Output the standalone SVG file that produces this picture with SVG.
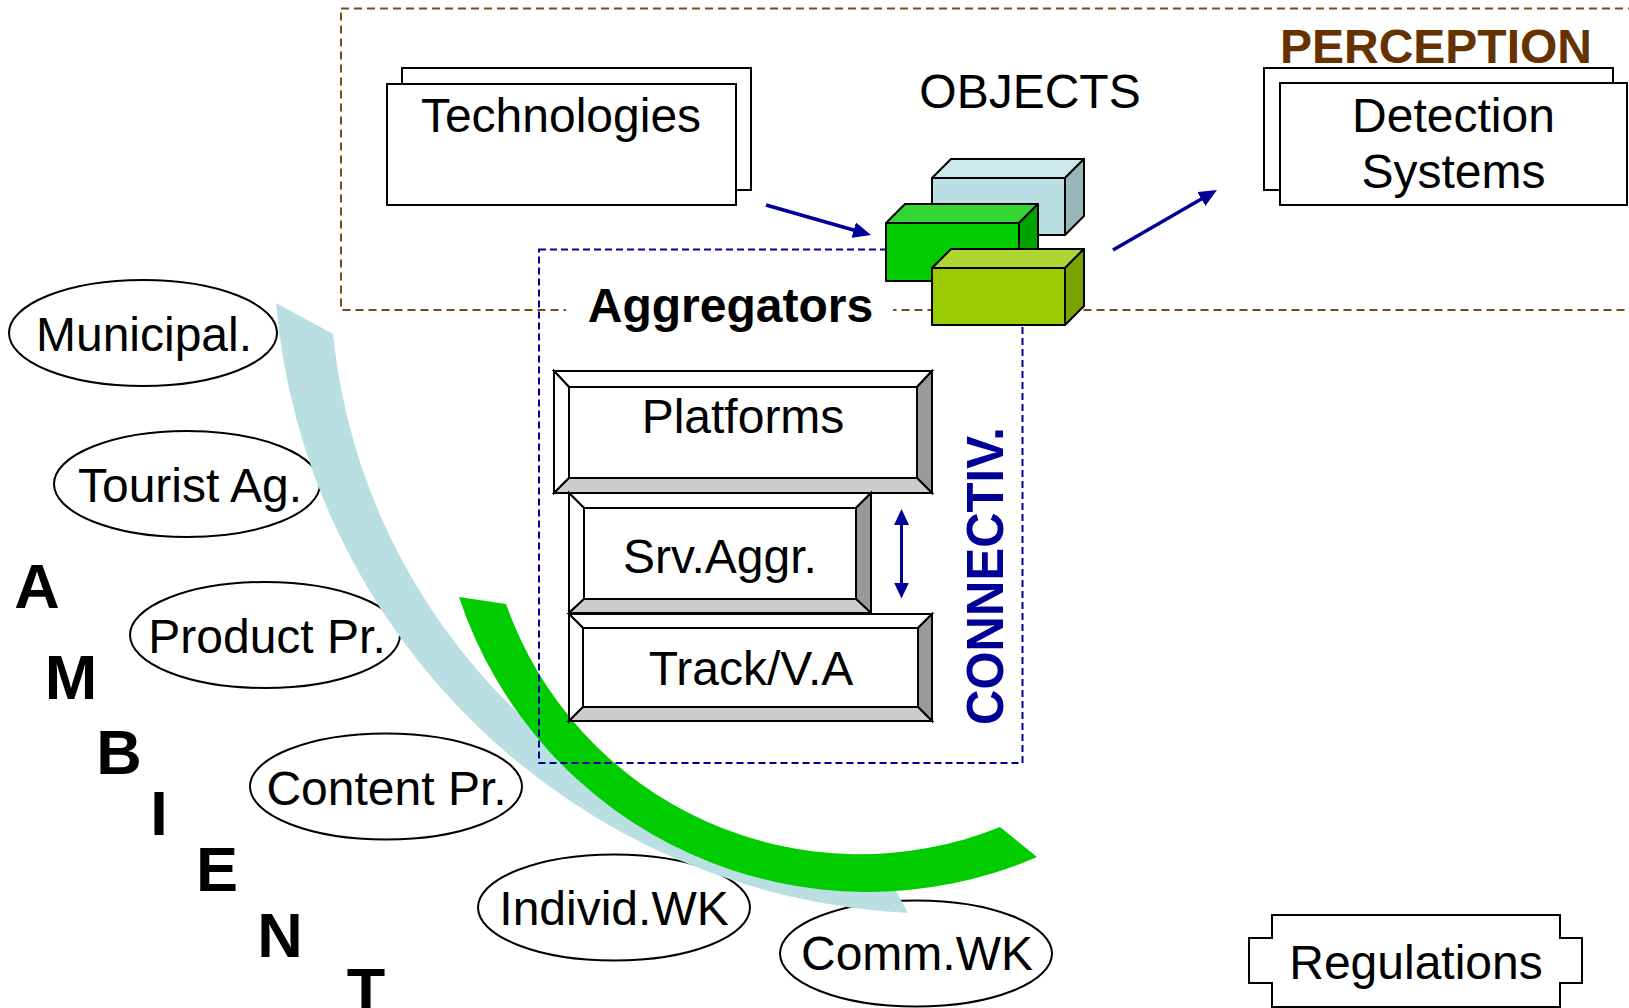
<svg xmlns="http://www.w3.org/2000/svg" width="1629" height="1008" viewBox="0 0 1629 1008">
<style>
.t{font-family:"Liberation Sans",Arial,sans-serif;font-size:48px;fill:#000}
.c{text-anchor:middle}
.b{font-weight:bold}
.box{fill:#fff;stroke:#000;stroke-width:2}
.ell{fill:#fff;stroke:#000;stroke-width:2}
.bv{stroke:#000;stroke-width:2;stroke-linejoin:miter}
.cube{stroke:#000;stroke-width:2;stroke-linejoin:round}
.arr{stroke:#000099;stroke-width:3.5;fill:none}
.amb{font-size:63px}
</style>
<defs>
<marker id="ah" viewBox="0 0 18 16" refX="8" refY="8" markerWidth="18" markerHeight="16" markerUnits="userSpaceOnUse" orient="auto">
<path d="M0,0 L18,8 L0,16 z" fill="#000099"/>
</marker>
<marker id="ahs" viewBox="0 0 16 15" refX="8" refY="7.5" markerWidth="16" markerHeight="15" markerUnits="userSpaceOnUse" orient="auto-start-reverse">
<path d="M0,0 L16,7.5 L0,15 z" fill="#000099"/>
</marker>
</defs>
<rect width="1629" height="1008" fill="#fff"/>

<g id="perception-frame">
<rect x="341" y="8.5" width="1310" height="301.5" fill="none" stroke="#7a4a1a" stroke-width="2" stroke-dasharray="8 5"/>
<text class="t b c" x="1436" y="63" style="fill:#663300">PERCEPTION</text>
</g>

<g id="technologies">
<rect class="box" x="402" y="68" width="349" height="122"/>
<rect class="box" x="387" y="84" width="349" height="121"/>
<text class="t c" x="561" y="132">Technologies</text>
</g>

<g id="detection-systems">
<rect class="box" x="1264" y="68" width="349" height="122"/>
<rect class="box" x="1280" y="83" width="347" height="122"/>
<text class="t c" x="1453.5" y="132">Detection</text>
<text class="t c" x="1453.5" y="188">Systems</text>
</g>

<g id="ambient">
<text class="t b c amb" x="37" y="608">A</text>
<text class="t b c amb" x="71" y="699">M</text>
<text class="t b c amb" x="119" y="774">B</text>
<text class="t b c amb" x="159" y="835">I</text>
<text class="t b c amb" x="217" y="891">E</text>
<text class="t b c amb" x="280" y="957">N</text>
<text class="t b c amb" x="366" y="1012">T</text>
</g>

<g id="municipal"><ellipse class="ell" cx="143" cy="333" rx="134" ry="53"/><text class="t c" x="144" y="351">Municipal.</text></g>
<g id="tourist-ag"><ellipse class="ell" cx="187" cy="484" rx="133" ry="53"/><text class="t c" x="190" y="502">Tourist Ag.</text></g>
<g id="product-pr"><ellipse class="ell" cx="265" cy="635" rx="135" ry="53"/><text class="t c" x="267" y="653">Product Pr.</text></g>
<g id="content-pr"><ellipse class="ell" cx="386" cy="786.5" rx="136" ry="53"/><text class="t c" x="386.5" y="805">Content Pr.</text></g>
<g id="individ-wk"><ellipse class="ell" cx="614" cy="907.5" rx="136" ry="53"/><text class="t c" x="614" y="925">Individ.WK</text></g>
<g id="comm-wk"><ellipse class="ell" cx="916" cy="953.5" rx="136" ry="53"/><text class="t c" x="917" y="970">Comm.WK</text></g>

<g id="flows">
<path d="M276,303 L333,334 A609,609 0 0 0 890,880 L908,913 A668,668 0 0 1 276,303 Z" fill="#b9dfe3"/>
<path d="M459,597 A430,430 0 0 0 1037,857 L1000,827 A375,375 0 0 1 506,604 Z" fill="#00cc00"/>
</g>

<g id="connectivity-frame">
<rect x="539" y="249.5" width="483.5" height="513.5" fill="none" stroke="#000099" stroke-width="2" stroke-dasharray="7 4"/>
<text class="t b c" x="0" y="0" transform="translate(1003,576) rotate(-90)" style="font-size:51px;fill:#000099" textLength="298" lengthAdjust="spacingAndGlyphs">CONNECTIV.</text>
</g>

<g id="aggregators">
<rect x="566" y="288" width="327" height="42" fill="#fff"/>
<text class="t b c" x="730.5" y="322">Aggregators</text>
</g>

<g id="platforms">
<rect x="554" y="371" width="378" height="122" fill="#fff" class="bv"/>
<polygon class="bv" points="554,371 932,371 917,387 569,387" fill="#fff"/>
<polygon class="bv" points="554,371 569,387 569,478 554,493" fill="#fff"/>
<polygon class="bv" points="932,371 932,493 917,478 917,387" fill="#999"/>
<polygon class="bv" points="554,493 932,493 917,478 569,478" fill="#ccc"/>
<rect x="569" y="387" width="348" height="91" fill="#fff" class="bv"/>
<text class="t c" x="743" y="432.5">Platforms</text>
</g>

<g id="srv-aggr">
<rect x="569" y="493" width="302" height="120" fill="#fff" class="bv"/>
<polygon class="bv" points="569,493 871,493 856,508 584,508" fill="#fff"/>
<polygon class="bv" points="569,493 584,508 584,599 569,613" fill="#fff"/>
<polygon class="bv" points="871,493 871,613 856,599 856,508" fill="#999"/>
<polygon class="bv" points="569,613 871,613 856,599 584,599" fill="#ccc"/>
<rect x="584" y="508" width="272" height="91" fill="#fff" class="bv"/>
<text class="t c" x="720" y="573">Srv.Aggr.</text>
</g>

<g id="track-va">
<rect x="569" y="614" width="363" height="107" fill="#fff" class="bv"/>
<polygon class="bv" points="569,614 932,614 918,628 583,628" fill="#fff"/>
<polygon class="bv" points="569,614 583,628 583,707 569,721" fill="#fff"/>
<polygon class="bv" points="932,614 932,721 918,707 918,628" fill="#999"/>
<polygon class="bv" points="569,721 932,721 918,707 583,707" fill="#ccc"/>
<rect x="583" y="628" width="335" height="79" fill="#fff" class="bv"/>
<text class="t c" x="751" y="685">Track/V.A</text>
</g>

<g id="objects">
<text class="t c" x="1030" y="108">OBJECTS</text>
<g id="cube-blue">
<polygon class="cube" points="932,178 951,159 1084,159 1065,178" fill="#cbe8ea"/>
<polygon class="cube" points="1065,178 1084,159 1084,216 1065,235" fill="#99b7b9"/>
<rect class="cube" x="932" y="178" width="133" height="57" fill="#b9dfe3"/>
</g>
<g id="cube-green">
<polygon class="cube" points="886,223 905,204 1038,204 1019,223" fill="#33d633"/>
<polygon class="cube" points="1019,223 1038,204 1038,262 1019,281" fill="#00a300"/>
<rect class="cube" x="886" y="223" width="133" height="58" fill="#00cc00"/>
</g>
<g id="cube-yellow">
<polygon class="cube" points="932,268 951,249 1084,249 1065,268" fill="#add633"/>
<polygon class="cube" points="1065,268 1084,249 1084,306 1065,325" fill="#7aa300"/>
<rect class="cube" x="932" y="268" width="133" height="57" fill="#99cc00"/>
</g>
</g>

<g id="regulations">
<polygon class="box" points="1272,915 1560,915 1560,938 1582,938 1582,983 1560,983 1560,1007 1272,1007 1272,983 1249,983 1249,938 1272,938"/>
<text class="t c" x="1416" y="979">Regulations</text>
</g>

<g id="connectors">
<line class="arr" x1="766" y1="205" x2="861.4" y2="232.3" marker-end="url(#ah)"/>
<line class="arr" x1="1113" y1="250" x2="1208.3" y2="195" marker-end="url(#ah)"/>
<line class="arr" style="stroke-width:3" x1="901.5" y1="517" x2="901.5" y2="590.5" marker-start="url(#ahs)" marker-end="url(#ahs)"/>
</g>
</svg>
